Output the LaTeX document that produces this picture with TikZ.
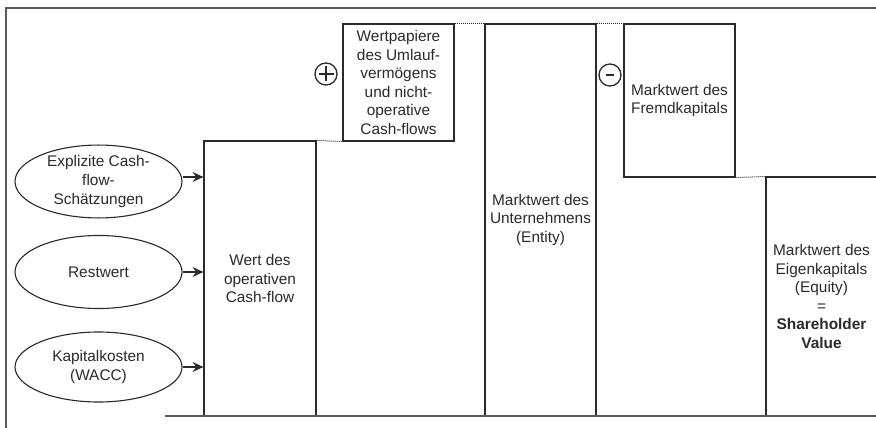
\documentclass[tikz,border=0pt]{standalone}
\usepackage{fontspec}
\setmainfont{Liberation Sans}
\usetikzlibrary{shapes.geometric,arrows.meta}
\definecolor{ink}{HTML}{2A2A2A}
\definecolor{frame}{HTML}{5A5A5A}
\tikzset{
  every node/.style={font=\fontsize{15.4}{18.6}\selectfont, text=ink},
  valuebox/.style={draw=ink, line width=1.1pt, rectangle, inner sep=0pt, align=center},
  driver/.style={draw=ink, line width=1.1pt, ellipse, inner sep=0pt, minimum width=167pt, align=center},
  feed/.style={draw=ink, line width=1.2pt, -{Stealth[length=11pt,width=10pt,inset=4pt]}},
  steplink/.style={draw=ink, line width=1pt, dash pattern=on 1pt off 1pt},
  border/.style={draw=frame, line width=2pt},
  sign/.style={draw=ink, line width=1.3pt, circle, minimum size=22pt, inner sep=0pt}
}
\begin{document}
\begin{tikzpicture}[x=1pt,y=-1pt]
\useasboundingbox (0,0) rectangle (876,428);

% outer frame (top and left edges)
\coordinate (ftr) at (876,8);
\coordinate (ftl) at (6,8);
\coordinate (fbl) at (6,428);
\draw[border] (ftr) -- (ftl) -- (fbl);

% value drivers
\node[driver, minimum height=61pt] (ecf) at (98.5,181.5) {Explizite Cash-\\flow-\\Schätzungen};
\node[driver, minimum height=73pt] (rw) at (98.5,272) {Restwert};
\node[driver, minimum height=70pt] (wacc) at (98.5,367) {Kapitalkosten\\(WACC)};

% value blocks
\node[valuebox, minimum width=112pt, minimum height=275pt] (op) at (260,278.5) {Wert des\\operativen\\Cash-flow};
\node[valuebox, minimum width=111pt, minimum height=117pt] (wp) at (398.5,82.5) {Wertpapiere\\des Umlauf-\\vermögens\\und nicht-\\operative\\Cash-flows};
\node[valuebox, minimum width=111pt, minimum height=392pt] (ent) at (540.5,220) {Marktwert des\\Unternehmens\\(Entity)};
\node[valuebox, minimum width=111pt, minimum height=153pt] (fk) at (679.5,100.5) {Marktwert des\\Fremdkapitals};
\node[valuebox, minimum width=111pt, minimum height=239pt] (ek) at (821.5,296.5) {Marktwert des\\Eigenkapitals\\(Equity)\\=\\\textbf{Shareholder}\\\textbf{Value}};

% arrows into the operating cash-flow block
\draw[feed] (ecf.east |- 0,177) -- (op.west |- 0,177);
\draw[feed] (rw.east) -- (op.west |- rw.east);
\draw[feed] (wacc.east) -- (op.west |- wacc.east);

% dotted step connections
\draw[steplink] (op.north east) -- (wp.south west);
\draw[steplink] (wp.north east) -- (ent.north west);
\draw[steplink] (ent.north east) -- (fk.north west);
\draw[steplink] (fk.south east) -- (ek.north west);

% plus and minus signs
\node[sign] (plus) at (326,74) {};
\draw[ink, line width=1.5pt] ([xshift=-7.5pt]plus.center) -- ([xshift=7.5pt]plus.center);
\draw[ink, line width=1.5pt] ([yshift=-7.5pt]plus.center) -- ([yshift=7.5pt]plus.center);
\node[sign] (minus) at (610,75) {};
\draw[ink, line width=2.6pt] ([xshift=-4pt]minus.center) -- ([xshift=4pt]minus.center);

% base line
\coordinate (bl) at (165,416);
\coordinate (br) at (876,416);
\draw[border] (bl) -- (br);
\end{tikzpicture}
\end{document}
